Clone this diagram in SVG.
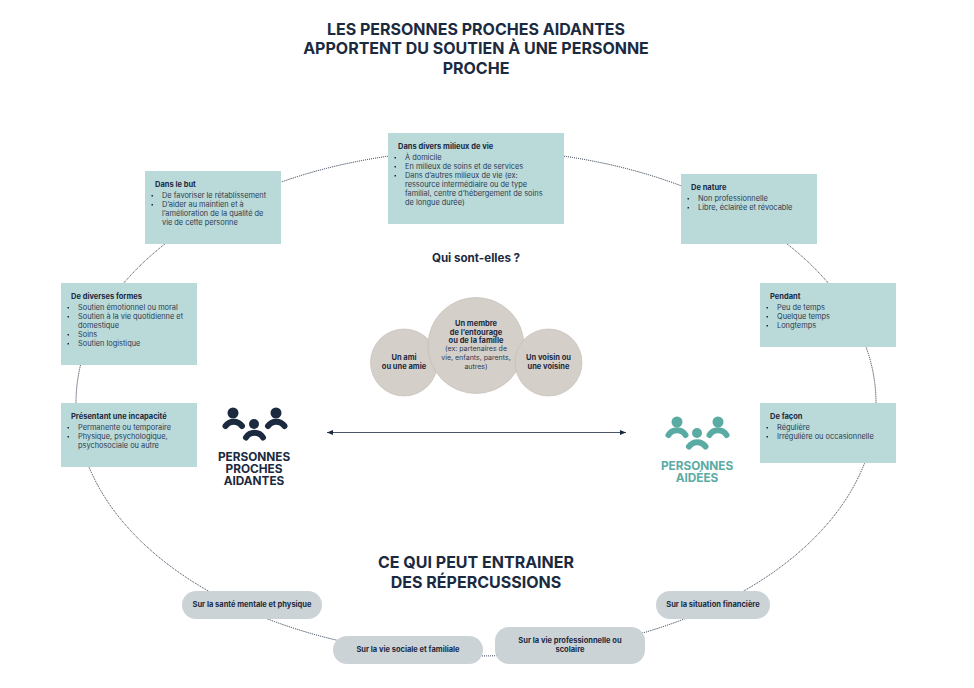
<svg xmlns="http://www.w3.org/2000/svg" width="974" height="688" viewBox="0 0 974 688">
<style>
text{font-family:"Inter","Open Sans","Liberation Sans",sans-serif;fill:#1b2a3f}
.h{font-size:16px;font-weight:700;text-anchor:middle}
.q{font-size:11.600px;font-weight:700;text-anchor:middle}
.p{font-size:11.800px;font-weight:700;text-anchor:middle}
.t{font-size:7.500px;font-weight:700}
.b{font-size:7.400px;font-weight:400;fill:#2e3b50}
.c{font-size:7.500px;font-weight:700;text-anchor:middle}
.c2{font-size:7px;font-weight:400;text-anchor:middle;fill:#2e3b50}
.box{fill:#bad9d9}
.pill{fill:#ccd3d7}
.circ{fill:#d5cfc9;stroke:#bdb8b0;stroke-width:.6}
.dot{fill:#1b2a3f}
.nav{fill:#1b2a3f}
.arcn{fill:none;stroke:#1b2a3f;stroke-width:6;stroke-linecap:round}
.teal{fill:#5baba5}
.arct{fill:none;stroke:#5baba5;stroke-width:6;stroke-linecap:round}
.conn{fill:none;stroke:#1b2a3f;stroke-width:1;stroke-dasharray:1 1}
</style>
<defs>
<marker id="ah" markerWidth="7" markerHeight="6" refX="6" refY="3" orient="auto-start-reverse" markerUnits="userSpaceOnUse"><path d="M0 .5L6 3L0 5.500Z" fill="#1b2a3f"/></marker>
</defs>
<g id="connectors">
<ellipse class="conn" cx="476" cy="403" rx="400" ry="253"/>
<line x1="327" y1="432.500" x2="626" y2="432.500" stroke="#1b2a3f" stroke-width=".8" marker-start="url(#ah)" marker-end="url(#ah)"/>
</g>
<g id="title">
<text class="h" x="476" y="35">LES PERSONNES PROCHES AIDANTES</text>
<text class="h" x="476" y="54">APPORTENT DU SOUTIEN À UNE PERSONNE</text>
<text class="h" x="476" y="74">PROCHE</text>
</g>
<g id="milieux"><rect class="box" x="388" y="133" width="176" height="91"/>
<text class="t" x="398" y="149">Dans divers milieux de vie</text>
<rect class="dot" x="394.500" y="157" width="1.500" height="1.500"/><rect class="dot" x="394.500" y="166" width="1.500" height="1.500"/><rect class="dot" x="394.500" y="175" width="1.500" height="1.500"/>
<text class="b" x="405" y="160">À domicile</text>
<text class="b" x="405" y="169">En milieux de soins et de services</text>
<text class="b" x="405" y="178">Dans d’autres milieux de vie (ex:</text>
<text class="b" x="405" y="187">ressource intermédiaire ou de type</text>
<text class="b" x="405" y="196">familial, centre d’hébergement de soins</text>
<text class="b" x="405" y="205">de longue durée)</text>
</g>
<g id="but"><rect class="box" x="145" y="171" width="136" height="73"/>
<text class="t" x="155" y="187">Dans le but</text>
<rect class="dot" x="151.500" y="195" width="1.500" height="1.500"/><rect class="dot" x="151.500" y="204" width="1.500" height="1.500"/>
<text class="b" x="162" y="198">De favoriser le rétablissement</text>
<text class="b" x="162" y="207">D’aider au maintien et à</text>
<text class="b" x="162" y="216">l’amélioration de la qualité de</text>
<text class="b" x="162" y="225">vie de cette personne</text>
</g>
<g id="formes"><rect class="box" x="61" y="283" width="136" height="82"/>
<text class="t" x="71" y="299">De diverses formes</text>
<rect class="dot" x="67.500" y="307" width="1.500" height="1.500"/><rect class="dot" x="67.500" y="316" width="1.500" height="1.500"/><rect class="dot" x="67.500" y="334" width="1.500" height="1.500"/><rect class="dot" x="67.500" y="343" width="1.500" height="1.500"/>
<text class="b" x="78" y="310">Soutien émotionnel ou moral</text>
<text class="b" x="78" y="319">Soutien à la vie quotidienne et</text>
<text class="b" x="78" y="328">domestique</text>
<text class="b" x="78" y="337">Soins</text>
<text class="b" x="78" y="346">Soutien logistique</text>
</g>
<g id="incapacite"><rect class="box" x="61" y="403" width="136" height="64"/>
<text class="t" x="71" y="419">Présentant une incapacité</text>
<rect class="dot" x="67.500" y="427" width="1.500" height="1.500"/><rect class="dot" x="67.500" y="436" width="1.500" height="1.500"/>
<text class="b" x="78" y="430">Permanente ou temporaire</text>
<text class="b" x="78" y="439">Physique, psychologique,</text>
<text class="b" x="78" y="448">psychosociale ou autre</text>
</g>
<g id="nature"><rect class="box" x="681" y="174" width="136" height="70"/>
<text class="t" x="691" y="190">De nature</text>
<rect class="dot" x="687.500" y="198" width="1.500" height="1.500"/><rect class="dot" x="687.500" y="207" width="1.500" height="1.500"/>
<text class="b" x="698" y="201">Non professionnelle</text>
<text class="b" x="698" y="210">Libre, éclairée et révocable</text>
</g>
<g id="pendant"><rect class="box" x="760" y="283" width="136" height="64"/>
<text class="t" x="770" y="299">Pendant</text>
<rect class="dot" x="766.500" y="307" width="1.500" height="1.500"/><rect class="dot" x="766.500" y="316" width="1.500" height="1.500"/><rect class="dot" x="766.500" y="325" width="1.500" height="1.500"/>
<text class="b" x="777" y="310">Peu de temps</text>
<text class="b" x="777" y="319">Quelque temps</text>
<text class="b" x="777" y="328">Longtemps</text>
</g>
<g id="facon"><rect class="box" x="760" y="403" width="136" height="60"/>
<text class="t" x="770" y="419">De façon</text>
<rect class="dot" x="766.500" y="427" width="1.500" height="1.500"/><rect class="dot" x="766.500" y="436" width="1.500" height="1.500"/>
<text class="b" x="777" y="430">Régulière</text>
<text class="b" x="777" y="439">Irrégulière ou occasionnelle</text>
</g>
<text class="q" x="476" y="262">Qui sont-elles ?</text>
<g id="ami"><circle class="circ" cx="404" cy="362.500" r="33.500"/>
<text class="c" x="404" y="360">Un ami</text><text class="c" x="404" y="369">ou une amie</text></g>
<g id="membre"><circle class="circ" cx="476" cy="345.500" r="48"/>
<text class="c" x="476" y="326">Un membre</text><text class="c" x="476" y="335">de l’entourage</text><text class="c" x="476" y="343">ou de la famille</text>
<text class="c2" x="476" y="351">(ex: partenaires de</text><text class="c2" x="476" y="360">vie, enfants, parents,</text><text class="c2" x="476" y="369">autres)</text></g>
<g id="voisin"><circle class="circ" cx="548.500" cy="362.500" r="33.500"/>
<text class="c" x="548.500" y="360">Un voisin ou</text><text class="c" x="548.500" y="369">une voisine</text></g>
<g id="aidantes">
<circle class="nav" cx="233" cy="413" r="5.500"/><circle class="nav" cx="276" cy="413" r="5.500"/><circle class="nav" cx="254" cy="424" r="5"/>
<path class="arcn" d="M225.500 426A10 10 0 0 1 242 426"/><path class="arcn" d="M268 426A10 10 0 0 1 284.500 426"/><path class="arcn" d="M246 437.500A10 10 0 0 1 263 437.500"/>
<text class="p" x="254" y="461">PERSONNES</text><text class="p" x="254" y="473">PROCHES</text><text class="p" x="254" y="485">AIDANTES</text>
</g>
<g id="aidees">
<circle class="teal" cx="677" cy="422" r="5.500"/><circle class="teal" cx="718" cy="422" r="5.500"/><circle class="teal" cx="697" cy="433" r="5"/>
<path class="arct" d="M668.500 435A10 10 0 0 1 685.500 435"/><path class="arct" d="M709.500 435A10 10 0 0 1 726.500 435"/><path class="arct" d="M689 446.500A10 10 0 0 1 705.500 446.500"/>
<text class="p" x="697" y="470" style="fill:#5baba5">PERSONNES</text><text class="p" x="697" y="482" style="fill:#5baba5">AIDÉES</text>
</g>
<g id="repercussions">
<text class="h" x="476" y="568">CE QUI PEUT ENTRAINER</text>
<text class="h" x="476" y="588">DES RÉPERCUSSIONS</text>
</g>
<g id="sante"><rect class="pill" x="182" y="591" width="140" height="28" rx="14"/><text class="c" x="252" y="607">Sur la santé mentale et physique</text></g>
<g id="sociale"><rect class="pill" x="333" y="636" width="150" height="28" rx="14"/><text class="c" x="408" y="652">Sur la vie sociale et familiale</text></g>
<g id="professionnelle"><rect class="pill" x="495" y="627" width="150" height="37" rx="14"/><text class="c" x="570" y="643">Sur la vie professionnelle ou</text><text class="c" x="570" y="652">scolaire</text></g>
<g id="financiere"><rect class="pill" x="656" y="591" width="114" height="28" rx="14"/><text class="c" x="713" y="607">Sur la situation financière</text></g>
</svg>
